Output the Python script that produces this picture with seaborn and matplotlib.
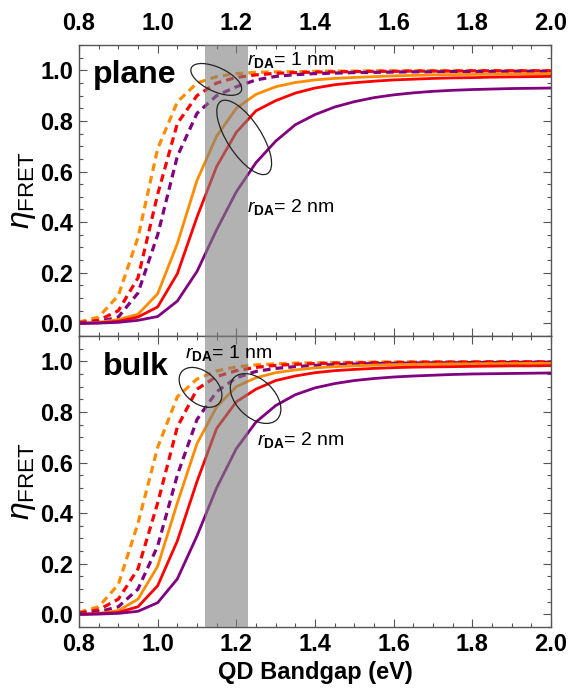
import matplotlib

matplotlib.use("Agg")

import matplotlib.pyplot as plt  # noqa: E402
import pandas as pd  # noqa: E402
import seaborn as sns  # noqa: E402
from matplotlib.patches import Ellipse  # noqa: E402
from matplotlib.ticker import FormatStrFormatter, MultipleLocator  # noqa: E402
from matplotlib.transforms import ScaledTranslation  # noqa: E402

# QD bandgap grid (eV)
bandgap = [0.80, 0.85, 0.90, 0.95, 1.00, 1.05, 1.10, 1.15, 1.20, 1.25, 1.30, 1.35, 1.40,
           1.45, 1.50, 1.55, 1.60, 1.65, 1.70, 1.75, 1.80, 1.85, 1.90, 1.95, 2.00]

# plane acceptor, dashed = rDA 1 nm, solid = rDA 2 nm
plane_orange_1nm = [0.005, 0.025, 0.11, 0.34, 0.69, 0.875, 0.95, 0.975, 0.987, 0.992, 0.994, 0.995, 0.996,
                    0.997, 0.997, 0.998, 0.998, 0.998, 0.999, 0.999, 0.999, 0.999, 0.999, 0.999, 0.999]
plane_red_1nm = [0.003, 0.012, 0.05, 0.18, 0.51, 0.79, 0.90, 0.95, 0.972, 0.982, 0.988, 0.991, 0.993,
                 0.994, 0.995, 0.996, 0.996, 0.997, 0.997, 0.997, 0.998, 0.998, 0.998, 0.998, 0.998]
plane_purple_1nm = [0.002, 0.006, 0.025, 0.12, 0.35, 0.66, 0.83, 0.90, 0.935, 0.962, 0.976, 0.983, 0.987,
                    0.989, 0.991, 0.992, 0.993, 0.994, 0.994, 0.995, 0.995, 0.995, 0.996, 0.996, 0.996]
plane_orange_2nm = [0.0, 0.004, 0.015, 0.036, 0.117, 0.315, 0.565, 0.74, 0.85, 0.905, 0.935, 0.952, 0.962,
                    0.968, 0.972, 0.975, 0.978, 0.980, 0.982, 0.983, 0.984, 0.985, 0.986, 0.986, 0.987]
plane_red_2nm = [0.0, 0.002, 0.008, 0.025, 0.065, 0.196, 0.42, 0.62, 0.755, 0.84, 0.88, 0.91, 0.93,
                 0.943, 0.951, 0.957, 0.962, 0.965, 0.968, 0.970, 0.971, 0.973, 0.974, 0.975, 0.976]
plane_purple_2nm = [0.0, 0.001, 0.004, 0.012, 0.027, 0.088, 0.205, 0.37, 0.52, 0.635, 0.72, 0.785, 0.825,
                    0.855, 0.876, 0.892, 0.903, 0.911, 0.917, 0.921, 0.924, 0.926, 0.928, 0.929, 0.930]

# bulk acceptor
bulk_orange_1nm = [0.008, 0.03, 0.118, 0.36, 0.66, 0.86, 0.93, 0.962, 0.978, 0.986, 0.99, 0.993, 0.994,
                   0.995, 0.996, 0.997, 0.997, 0.998, 0.998, 0.998, 0.999, 0.999, 0.999, 0.999, 0.999]
bulk_red_1nm = [0.005, 0.018, 0.06, 0.18, 0.44, 0.74, 0.89, 0.94, 0.963, 0.976, 0.984, 0.988, 0.991,
                0.993, 0.994, 0.995, 0.996, 0.996, 0.997, 0.997, 0.997, 0.998, 0.998, 0.998, 0.998]
bulk_purple_1nm = [0.003, 0.01, 0.03, 0.10, 0.27, 0.55, 0.77, 0.88, 0.935, 0.96, 0.972, 0.979, 0.984,
                   0.987, 0.989, 0.991, 0.992, 0.993, 0.994, 0.994, 0.995, 0.995, 0.995, 0.996, 0.996]
bulk_orange_2nm = [0.0, 0.004, 0.015, 0.06, 0.19, 0.44, 0.675, 0.82, 0.90, 0.935, 0.955, 0.966, 0.974,
                   0.979, 0.982, 0.985, 0.987, 0.988, 0.989, 0.990, 0.990, 0.991, 0.991, 0.992, 0.992]
bulk_red_2nm = [0.0, 0.003, 0.008, 0.03, 0.113, 0.29, 0.525, 0.735, 0.84, 0.89, 0.924, 0.942, 0.955,
                0.963, 0.968, 0.972, 0.975, 0.977, 0.978, 0.979, 0.980, 0.981, 0.982, 0.982, 0.983]
bulk_purple_2nm = [0.0, 0.001, 0.004, 0.012, 0.046, 0.14, 0.31, 0.50, 0.655, 0.76, 0.825, 0.868, 0.895,
                   0.912, 0.924, 0.932, 0.938, 0.942, 0.945, 0.948, 0.950, 0.951, 0.952, 0.953, 0.954]

si_band = (1.12, 1.23)

ORANGE = "#FF8C00"
RED = "#FF0000"
PURPLE = "#800080"

sns.set_style("ticks")
plt.rcParams["font.family"] = ["Liberation Sans", "DejaVu Sans"]
plt.rcParams["mathtext.fontset"] = "custom"
plt.rcParams["mathtext.rm"] = "Liberation Sans"
plt.rcParams["mathtext.it"] = "Liberation Sans:italic"
plt.rcParams["mathtext.bf"] = "Liberation Sans:bold"
for key in ("text.color", "axes.labelcolor", "xtick.labelcolor", "ytick.labelcolor"):
    plt.rcParams[key] = "black"

fig = plt.figure(figsize=(5.70, 6.99), dpi=100)
ax_top = fig.add_axes([0.1386, 0.5193, 0.828, 0.4163])
ax_bot = fig.add_axes([0.1386, 0.1030, 0.828, 0.4163])

panels = [
    (ax_top, "plane",
     [(plane_orange_1nm, ORANGE, True), (plane_red_1nm, RED, True), (plane_purple_1nm, PURPLE, True),
      (plane_orange_2nm, ORANGE, False), (plane_red_2nm, RED, False), (plane_purple_2nm, PURPLE, False)]),
    (ax_bot, "bulk",
     [(bulk_orange_1nm, ORANGE, True), (bulk_red_1nm, RED, True), (bulk_purple_1nm, PURPLE, True),
      (bulk_orange_2nm, ORANGE, False), (bulk_red_2nm, RED, False), (bulk_purple_2nm, PURPLE, False)]),
]


def add_ellipse(ax, cx, cy, w_px, h_px, angle):
    # ellipse sized in pixels, placed at a data position
    trans = fig.dpi_scale_trans + ScaledTranslation(cx, cy, ax.transData)
    ax.add_patch(Ellipse((0, 0), w_px / 100, h_px / 100, angle=angle, transform=trans,
                         fill=False, edgecolor="#222222", linewidth=0.9, zorder=5))


def rda_label(ax, x, y, nm):
    ax.text(x, y, r"$r_{\mathbf{DA}}$= " + f"{nm} nm", fontsize=14, ha="left", va="center", zorder=6)


for ax, name, series in panels:
    for vals, color, dashed in series:
        df = pd.DataFrame({"gap": bandgap, "eta": vals})
        sns.lineplot(data=df, x="gap", y="eta", ax=ax, color=color, linewidth=2.0 if not dashed else 2.3,
                     linestyle=(0, (2.4, 1.6)) if dashed else "-", zorder=2)
    ax.axvspan(*si_band, color="#808080", alpha=0.6, linewidth=0, zorder=3)

    ax.set_xlim(0.8, 2.0)
    ax.set_ylim(-0.05, 1.1)
    ax.xaxis.set_major_locator(MultipleLocator(0.2))
    ax.xaxis.set_minor_locator(MultipleLocator(0.05))
    ax.yaxis.set_major_locator(MultipleLocator(0.2))
    ax.yaxis.set_minor_locator(MultipleLocator(0.05))
    ax.xaxis.set_major_formatter(FormatStrFormatter("%.1f"))
    ax.yaxis.set_major_formatter(FormatStrFormatter("%.1f"))
    ax.tick_params(which="both", direction="in", top=True, bottom=True, left=True, right=True,
                   color="#555555", width=0.8)
    ax.tick_params(which="major", length=6, labelsize=17, pad=4)
    ax.tick_params(which="minor", length=3)
    for sp in ax.spines.values():
        sp.set_color("#555555")
        sp.set_linewidth(1.0)
    ax.set_xlabel("")
    ax.set_ylabel(r"$\eta_{\mathrm{FRET}}$", fontsize=23, labelpad=2)

ax_top.tick_params(axis="x", labeltop=True, labelbottom=False, pad=7)
ax_bot.set_xlabel("QD Bandgap (eV)", fontsize=17, fontweight="bold", labelpad=4)
for ax in (ax_top, ax_bot):
    for lab in ax.get_xticklabels() + ax.get_yticklabels():
        lab.set_fontweight("bold")

ax_top.text(0.836, 0.949, "plane", fontsize=23, fontweight="bold", ha="left", va="baseline", zorder=6)
ax_bot.text(0.861, 0.944, "bulk", fontsize=23, fontweight="bold", ha="left", va="baseline", zorder=6)

add_ellipse(ax_top, 1.149, 0.964, 55, 24, -25)
add_ellipse(ax_top, 1.220, 0.735, 86, 34, -57)
add_ellipse(ax_bot, 1.109, 0.897, 49, 32, -40)
add_ellipse(ax_bot, 1.249, 0.853, 60, 38, -44)

rda_label(ax_top, 1.227, 1.04, 1)
rda_label(ax_top, 1.227, 0.458, 2)
rda_label(ax_bot, 1.070, 1.034, 1)
rda_label(ax_bot, 1.253, 0.688, 2)

fig.savefig("out.png", dpi=100)
